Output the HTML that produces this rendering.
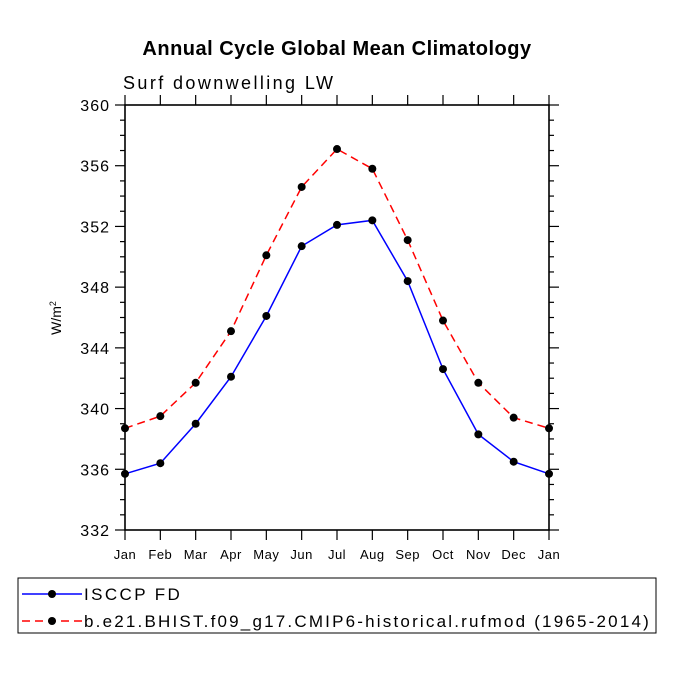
<!DOCTYPE html>
<html><head><meta charset="utf-8"><style>
body{margin:0;background:#fff;}
svg{display:block;font-family:"Liberation Sans",sans-serif;}
</style></head><body>
<svg id="chart" width="675" height="675" viewBox="0 0 675 675">
<text x="337" y="55" text-anchor="middle" font-size="20" font-weight="bold" letter-spacing="0.5">Annual Cycle Global Mean Climatology</text>
<text x="123" y="89" font-size="18" letter-spacing="2.4">Surf downwelling LW</text>
<text transform="translate(61,318) rotate(-90)" text-anchor="middle" font-size="14">W/m<tspan dy="-5" font-size="9">2</tspan></text>
<g id="axes"></g>
<g id="series"></g>
<g>
<rect x="18" y="578" width="638" height="55" fill="none" stroke="#000" stroke-width="1"/>
<line x1="22" y1="594" x2="82" y2="594" stroke="#00f" stroke-width="1.5"/>
<circle cx="52" cy="594" r="4" fill="#000"/>
<text x="84" y="600" font-size="17" letter-spacing="2.4">ISCCP FD</text>
<line x1="22" y1="621" x2="82" y2="621" stroke="#f00" stroke-width="1.5" stroke-dasharray="8,5"/>
<circle cx="52" cy="621" r="4" fill="#000"/>
<text x="84" y="627" font-size="17" letter-spacing="2.2">b.e21.BHIST.f09_g17.CMIP6-historical.rufmod (1965-2014)</text>
</g>
</svg>
<script>
const months=["Jan","Feb","Mar","Apr","May","Jun","Jul","Aug","Sep","Oct","Nov","Dec","Jan"];
const isccp=[335.7,336.4,339.0,342.1,346.1,350.7,352.1,352.4,348.4,342.6,338.3,336.5,335.7];
const model=[338.7,339.5,341.7,345.1,350.1,354.6,357.1,355.8,351.1,345.8,341.7,339.4,338.7];
const yTicks=[332,336,340,344,348,352,356,360];
const L=125,R=549,T=105,B=530,ymin=332,ymax=360;
const NS="http://www.w3.org/2000/svg";
const X=i=>L+(R-L)*i/(months.length-1);
const Y=v=>B-(B-T)*(v-ymin)/(ymax-ymin);
function mk(tag,at,parent){const e=document.createElementNS(NS,tag);for(const k in at)e.setAttribute(k,at[k]);parent.appendChild(e);return e;}
const ax=document.getElementById('axes');
const box=mk('rect',{x:L,y:T,width:R-L,height:B-T,fill:'none',stroke:'#000','stroke-width':1.6},ax);


for(let v=ymin;v<=ymax;v++){
  const major=(v-ymin)%4===0, len=major?10:5;
  mk('line',{x1:L-len,y1:Y(v),x2:L,y2:Y(v),stroke:'#000','stroke-width':1.2},ax);
  mk('line',{x1:R,y1:Y(v),x2:R+len,y2:Y(v),stroke:'#000','stroke-width':1.2},ax);
}
yTicks.forEach(v=>{
  const t=mk('text',{x:L-15,y:Y(v)+6,'text-anchor':'end','font-size':16,'letter-spacing':1},ax);
  t.textContent=v;
  
  
});
months.forEach((m,i)=>{
  mk('line',{x1:X(i),y1:B,x2:X(i),y2:B+10,stroke:'#000','stroke-width':1.2},ax);
  mk('line',{x1:X(i),y1:T-10,x2:X(i),y2:T,stroke:'#000','stroke-width':1.2},ax);
  const t=mk('text',{x:X(i),y:B+29,'text-anchor':'middle','font-size':13,'letter-spacing':0.5},ax);
  t.textContent=m;
  
  
});
const sg=document.getElementById('series');
function draw(vals,color,dash,name){
  const g=mk('g',{},sg);
  
  
  mk('polyline',{points:vals.map((v,i)=>X(i)+','+Y(v)).join(' '),fill:'none',stroke:color,'stroke-width':1.5,'stroke-dasharray':dash},g);
  vals.forEach((v,i)=>{
    const c=mk('circle',{cx:X(i),cy:Y(v),r:4,fill:'#000'},g);
    
    
  });
}
draw(model,'#f00','8,5','series-model');
draw(isccp,'#00f','none','series-isccp');
</script>
</body></html>
